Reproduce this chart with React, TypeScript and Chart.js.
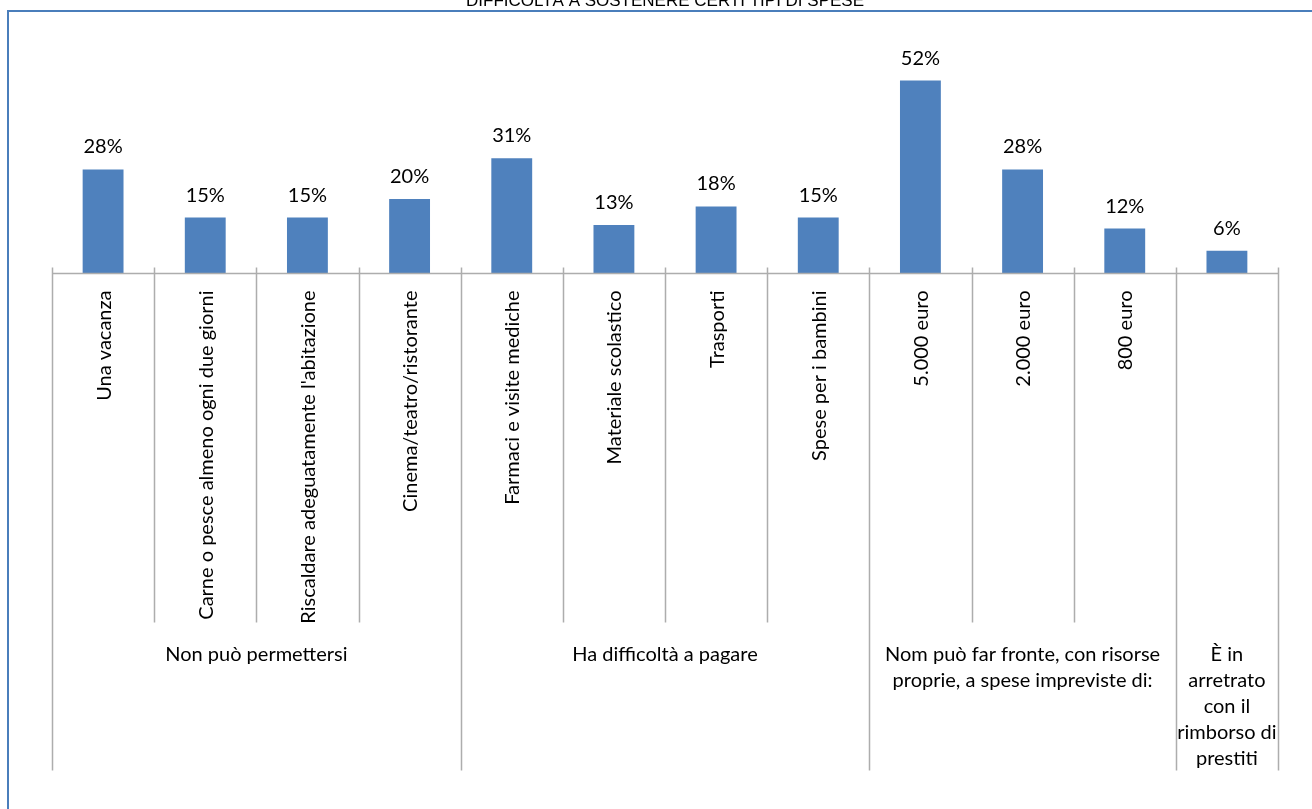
import React, { useEffect, useRef } from "react";
import { Chart, registerables } from "chart.js";

Chart.register(...registerables);

const title = "DIFFICOLTÀ A SOSTENERE CERTI TIPI DI SPESE";
const categories = [
  "Una vacanza",
  "Carne o pesce almeno ogni due giorni",
  "Riscaldare adeguatamente l'abitazione",
  "Cinema/teatro/ristorante",
  "Farmaci e visite mediche",
  "Materiale scolastico",
  "Trasporti",
  "Spese per i bambini",
  "5.000 euro",
  "2.000 euro",
  "800 euro",
  "",
];
const values = [28, 15, 15, 20, 31, 13, 18, 15, 52, 28, 12, 6];
const groupLabels = [
  ["Non può permettersi"],
  ["Ha difficoltà a pagare"],
  ["Nom può far fronte, con risorse", "proprie, a spese impreviste di:"],
  ["È in", "arretrato", "con il", "rimborso di", "prestiti"],
];
const groupSizes = [4, 4, 3, 1];

const W = 1312;
const H = 809;
const FONT = "Lato, 'Open Sans', sans-serif";
const GRAY = "#ADADAD";

const drawPlugin = {
  id: "customAxis",
  beforeDraw(chart: any) {
    const ctx = chart.ctx;
    ctx.save();
    ctx.fillStyle = "#ffffff";
    ctx.fillRect(0, 0, chart.width, chart.height);
    ctx.strokeStyle = "#4A7EBB";
    ctx.lineWidth = 2;
    ctx.strokeRect(8, 11, 3000, 3000);
    ctx.restore();
  },
  afterDraw(chart: any) {
    const ctx = chart.ctx;
    const xs = chart.scales.x;
    const ys = chart.scales.y;
    const baseY = Math.round(ys.getPixelForValue(0)) + 0.5;
    const step = xs.getPixelForValue(1) - xs.getPixelForValue(0);
    const n = categories.length;
    const bounds: number[] = [];
    for (let j = 0; j <= n; j++) {
      bounds.push(xs.getPixelForValue(0) - step / 2 + j * step);
    }
    const groupBounds = new Set<number>();
    let acc = 0;
    groupBounds.add(0);
    groupSizes.forEach((s) => {
      acc += s;
      groupBounds.add(acc);
    });

    ctx.save();
    // title (partly cut off at the top)
    ctx.fillStyle = "#000";
    ctx.font = "17px 'Liberation Sans', Arial, sans-serif";
    ctx.textAlign = "center";
    ctx.textBaseline = "alphabetic";
    ctx.fillText(title, (chart.chartArea.left + chart.chartArea.right) / 2, 5.5);

    // axis line
    ctx.strokeStyle = GRAY;
    ctx.lineWidth = 1.5;
    ctx.beginPath();
    ctx.moveTo(bounds[0], baseY);
    ctx.lineTo(bounds[n], baseY);
    ctx.stroke();

    // separators
    bounds.forEach((bx, j) => {
      const x = Math.round(bx) + 0.5;
      const isGroup = groupBounds.has(j);
      ctx.beginPath();
      ctx.moveTo(x, baseY - 6);
      ctx.lineTo(x, isGroup ? baseY + 497 : baseY + 349);
      ctx.stroke();
    });

    // rotated category labels
    ctx.fillStyle = "#000";
    ctx.font = `20px ${FONT}`;
    categories.forEach((lab, i) => {
      if (!lab) return;
      const cx = xs.getPixelForValue(i);
      ctx.save();
      ctx.translate(cx + 1, baseY + 17);
      ctx.rotate(-Math.PI / 2);
      ctx.textAlign = "right";
      ctx.textBaseline = "middle";
      ctx.fillText(lab, 0, 0);
      ctx.restore();
    });

    // group labels
    let start = 0;
    groupSizes.forEach((s, g) => {
      const cx = (bounds[start] + bounds[start + s]) / 2;
      ctx.textAlign = "center";
      ctx.textBaseline = "alphabetic";
      groupLabels[g].forEach((line, li) => {
        ctx.fillText(line, cx, baseY + 387 + li * 26);
      });
      start += s;
    });

    // data labels
    const meta = chart.getDatasetMeta(0);
    meta.data.forEach((el: any, i: number) => {
      ctx.textAlign = "center";
      ctx.textBaseline = "alphabetic";
      ctx.fillText(values[i] + "%", el.x, el.y - 16);
    });
    ctx.restore();
  },
};

export default function App() {
  const ref = useRef<HTMLCanvasElement | null>(null);
  useEffect(() => {
    if (!ref.current) return;
    const yMax = 60;
    const pxPerUnit = 3.7;
    const baseline = 273;
    const chart = new Chart(ref.current, {
      type: "bar",
      data: {
        labels: categories,
        datasets: [
          {
            data: values,
            backgroundColor: "#4F81BD",
            borderWidth: 0,
            barPercentage: 0.4,
            categoryPercentage: 1,
          },
        ],
      },
      options: {
        responsive: false,
        animation: false,
        devicePixelRatio: 1,
        layout: {
          padding: {
            left: 52,
            right: W - 1278,
            top: baseline - yMax * pxPerUnit,
            bottom: H - baseline,
          },
        },
        plugins: {
          legend: { display: false },
          tooltip: { enabled: false },
          title: { display: false },
        },
        scales: {
          x: { display: false, grid: { display: false } },
          y: { display: false, min: 0, max: yMax },
        },
      },
      plugins: [drawPlugin],
    });
    return () => chart.destroy();
  }, []);
  return (
    <div style={{ position: "fixed", left: 0, top: 0, width: W, height: H, background: "#fff" }}>
      <canvas ref={ref} width={W} height={H} style={{ display: "block", width: W, height: H }} />
    </div>
  );
}
